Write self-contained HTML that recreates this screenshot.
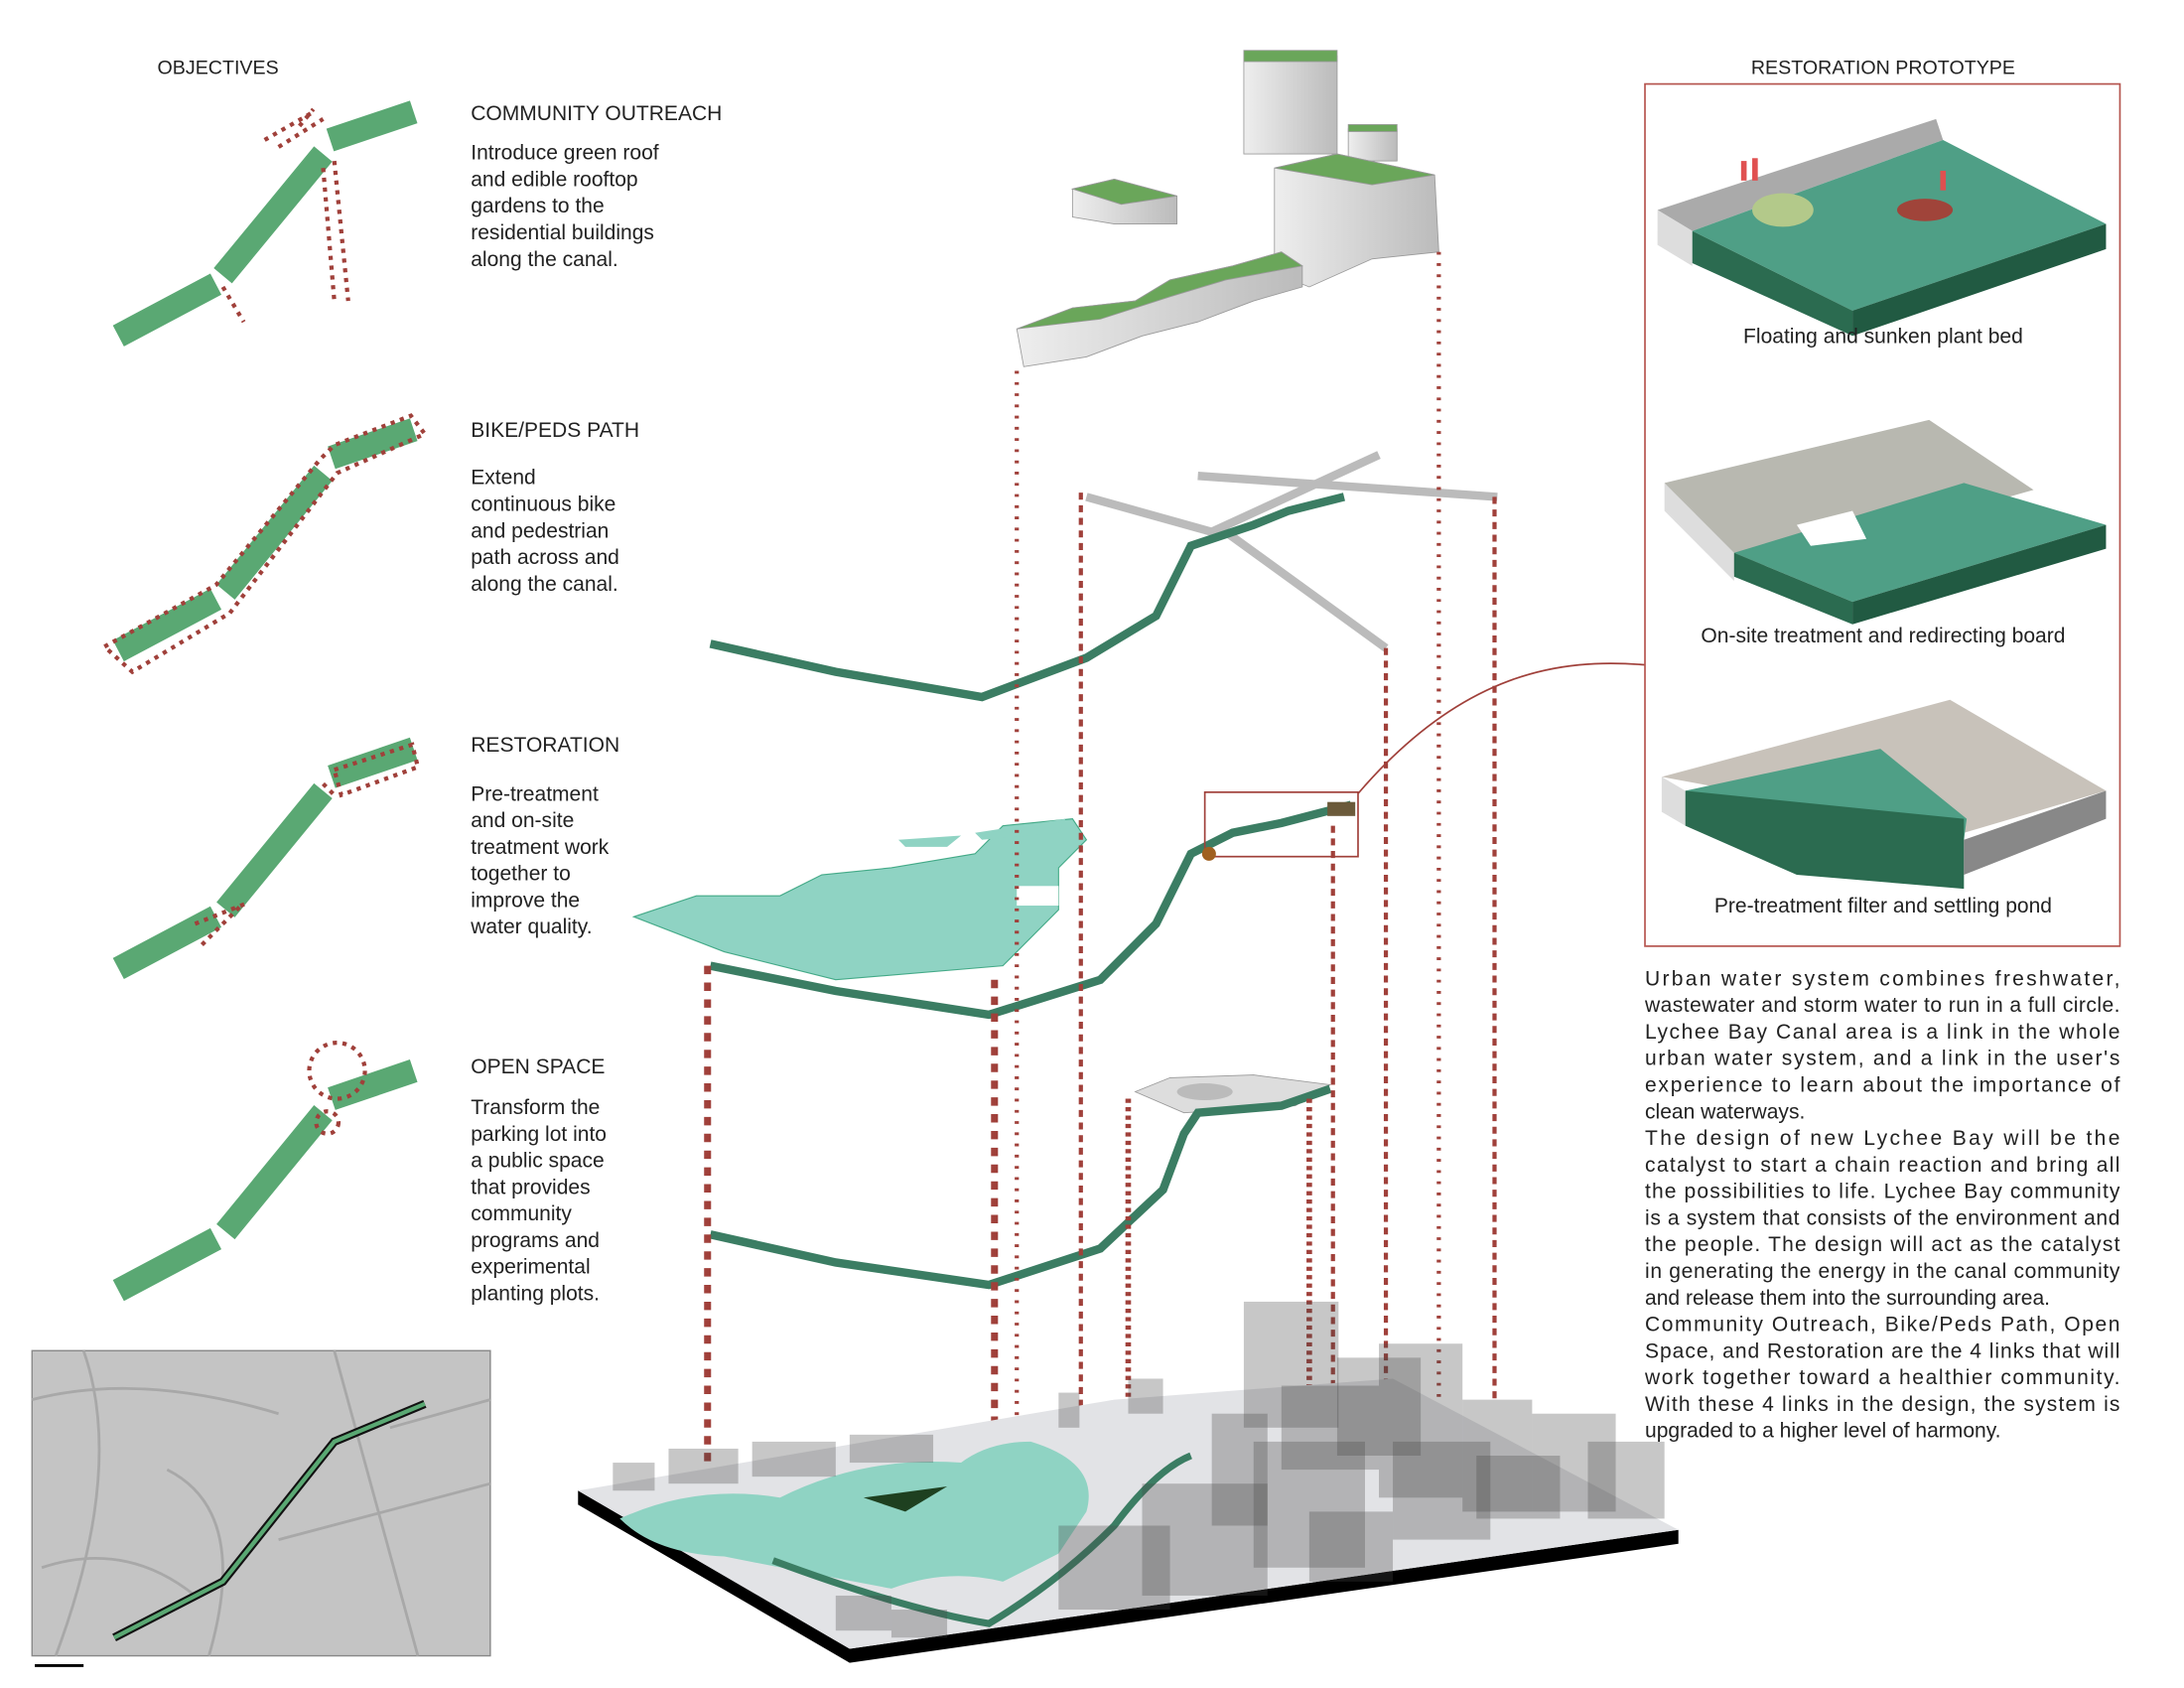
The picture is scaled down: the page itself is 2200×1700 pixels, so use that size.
<!DOCTYPE html>
<html><head><meta charset="utf-8"><style>
html,body{margin:0;padding:0;background:#fff}
svg{display:block}
text{font-family:"Liberation Sans",sans-serif;fill:#222}
</style></head><body>
<svg width="2200" height="1700" viewBox="0 0 1568 1206" preserveAspectRatio="none" xmlns="http://www.w3.org/2000/svg">
<defs>
<linearGradient id="bg" x1="0" x2="1"><stop offset="0" stop-color="#eee"/><stop offset="1" stop-color="#bbb"/></linearGradient>
</defs>
<text x="113" y="53" font-size="14">OBJECTIVES</text>
<g stroke="#5aa873" stroke-width="17" fill="none">
<path d="M85 240L155 203M160 197L232 110M237 100L297 80"/>
<path d="M85 465L155 428M162 423L232 338M238 327L297 307"/>
<path d="M85 692L155 655M162 650L232 565M238 555L297 535"/>
<path d="M85 922L155 885M162 880L232 795M238 785L297 765"/>
</g>
<g stroke="#a0403a" stroke-width="3" fill="none" stroke-dasharray="3 4">
<path d="M190 100L225 80M200 105L232 85M215 90L225 78M232 120L240 215M240 115L250 215M160 205L175 230"/>
<path d="M75 462L155 418L230 328L240 318L295 297L305 310L242 338L165 438L95 480Z"/>
<path d="M140 660L178 645M145 675L172 648M232 560L240 568M240 550L296 532L300 548L245 568Z"/>
<circle cx="242" cy="765" r="20"/><circle cx="235" cy="802" r="8"/>
</g>
<g font-size="15">
<text x="338" y="86">COMMUNITY OUTREACH</text>
<text x="338" y="114">Introduce green roof</text><text x="338" y="133">and edible rooftop</text><text x="338" y="152">gardens to the</text><text x="338" y="171">residential buildings</text><text x="338" y="190">along the canal.</text>
<text x="338" y="312">BIKE/PEDS PATH</text>
<text x="338" y="346">Extend</text><text x="338" y="365">continuous bike</text><text x="338" y="384">and pedestrian</text><text x="338" y="403">path across and</text><text x="338" y="422">along the canal.</text>
<text x="338" y="537">RESTORATION</text>
<text x="338" y="572">Pre-treatment</text><text x="338" y="591">and on-site</text><text x="338" y="610">treatment work</text><text x="338" y="629">together to</text><text x="338" y="648">improve the</text><text x="338" y="667">water quality.</text>
<text x="338" y="767">OPEN SPACE</text>
<text x="338" y="796">Transform the</text><text x="338" y="815">parking lot into</text><text x="338" y="834">a public space</text><text x="338" y="853">that provides</text><text x="338" y="872">community</text><text x="338" y="891">programs and</text><text x="338" y="910">experimental</text><text x="338" y="929">planting plots.</text>
</g>
<rect x="23" y="965" width="329" height="218" fill="#c4c4c4" stroke="#888"/>
<g stroke="#a8a8a8" stroke-width="2" fill="none">
<path d="M23 1000Q100 980 200 1010M60 965Q90 1050 40 1183M120 1050Q180 1080 150 1183M240 965L300 1183M200 1100L352 1060M280 1020L352 1000M30 1120Q90 1100 140 1140"/>
</g>
<path d="M82 1170L160 1130L240 1030L305 1003" stroke="#111" stroke-width="6" fill="none"/>
<path d="M82 1170L160 1130L240 1030L305 1003" stroke="#5aa873" stroke-width="3" fill="none"/>
<path d="M25 1190h35" stroke="#000" stroke-width="2"/>
<g stroke="#999" stroke-width="0.6">
<rect x="893" y="40" width="67" height="70" fill="url(#bg)"/><rect x="893" y="36" width="67" height="8" fill="#6aa65a"/>
<rect x="968" y="92" width="35" height="23" fill="url(#bg)"/><rect x="968" y="89" width="35" height="5" fill="#6aa65a"/>
<path d="M915 120L960 110L1030 125L1033 180L985 185L940 205L915 195Z" fill="url(#bg)"/><path d="M915 120L960 110L1030 125L985 132Z" fill="#6aa65a"/>
<path d="M770 135L800 128L845 140L845 160L800 160L770 155Z" fill="url(#bg)"/><path d="M770 135L800 128L845 140L805 146Z" fill="#6aa65a"/>
<path d="M730 235L770 220L815 215L840 200L885 190L920 180L935 190L935 205L900 215L860 230L820 240L780 255L735 262Z" fill="url(#bg)"/>
<path d="M730 235L770 220L815 215L840 200L885 190L920 180L935 190L880 200L840 212L790 228Z" fill="#6aa65a"/>
</g>
<g fill="none">
<path d="M780 355L870 380L990 325M860 340L1075 355M880 380L995 463" stroke="#bbb" stroke-width="6"/>
<path d="M510 460L600 480L705 498L780 470L830 440L855 390L900 375L925 365L965 355" stroke="#3b7d63" stroke-width="6"/>
</g>
<path d="M455 655L500 640L560 640L590 625L640 620L700 610L720 590L770 585L780 600L760 620L760 650L720 690L600 700L520 680Z" fill="#8fd3c3" stroke="#4a8" stroke-width="0.8"/>
<path d="M645 600L690 597L680 605L650 605Z M700 595L765 585L760 595L705 600Z" fill="#8fd3c3"/>
<rect x="730" y="633" width="30" height="14" fill="#fff"/>
<path d="M510 690L600 708L710 725L790 700L830 660L855 610L885 595L920 588L970 575" stroke="#3b7d63" stroke-width="6" fill="none"/>
<rect x="865" y="566" width="110" height="46" fill="none" stroke="#a0403a" stroke-width="1.2"/>
<rect x="953" y="573" width="20" height="10" fill="#6b5a3a"/>
<circle cx="868" cy="610" r="5" fill="#a06020"/>
<path d="M975 567C1050 480 1120 470 1181 475" stroke="#a0403a" stroke-width="1.2" fill="none"/>
<path d="M815 780L840 770L900 768L955 775L930 790L850 795Z" fill="#ddd" stroke="#999" stroke-width="0.6"/>
<ellipse cx="865" cy="780" rx="20" ry="6" fill="#bbb"/>
<path d="M510 882L600 902L710 918L790 892L835 850L850 810L860 795L920 790L955 778" stroke="#3b7d63" stroke-width="6" fill="none"/>
<g stroke="#a0403a" fill="none">
<path d="M730 265V1150M1033 180V1010" stroke-width="3" stroke-dasharray="2 6"/>
<path d="M776 352V1100M1073 355V1000M995 463V1125M957 590V1130" stroke-width="3" stroke-dasharray="5 4"/>
<path d="M508 690V1100M714 700V1160" stroke-width="5" stroke-dasharray="6 6"/>
<path d="M810 785V1020M940 785V1000M810 1020L845 1040L938 1015L940 1000L910 995L810 1010" stroke-width="4" stroke-dasharray="3 3"/>
</g>
<path d="M415 1065L610 1178L1205 1093L1205 1103L610 1188L415 1075Z" fill="#000"/>
<path d="M415 1065L800 1000L1000 985L1205 1093L610 1178Z" fill="#e2e3e6"/>
<path d="M445 1085Q500 1060 560 1070Q620 1040 690 1045Q710 1030 740 1030Q790 1045 780 1080L760 1110L720 1130Q680 1120 640 1135Q560 1120 520 1112Q470 1110 445 1085Z" fill="#8fd3c3"/>
<path d="M555 1115Q650 1150 710 1160Q760 1130 800 1090Q830 1050 855 1040" stroke="#3b7d63" stroke-width="5" fill="none"/>
<path d="M620 1070L680 1062L650 1080Z" fill="#1e4020"/>
<g fill="rgba(70,70,70,0.3)">
<rect x="893" y="930" width="68" height="90"/><rect x="960" y="970" width="60" height="70"/>
<rect x="990" y="960" width="60" height="110"/><rect x="1050" y="1000" width="50" height="80"/>
<rect x="1100" y="1010" width="60" height="70"/><rect x="1140" y="1030" width="55" height="55"/>
<rect x="900" y="1030" width="80" height="90"/><rect x="820" y="1060" width="90" height="80"/>
<rect x="760" y="1090" width="80" height="60"/><rect x="870" y="1010" width="40" height="80"/>
<rect x="1000" y="1030" width="70" height="70"/><rect x="940" y="1080" width="60" height="50"/>
<rect x="920" y="990" width="70" height="60"/><rect x="1060" y="1040" width="60" height="45"/>
<rect x="440" y="1045" width="30" height="20"/><rect x="480" y="1035" width="50" height="25"/>
<rect x="540" y="1030" width="60" height="25"/><rect x="610" y="1025" width="60" height="20"/>
<rect x="760" y="995" width="15" height="25"/><rect x="810" y="985" width="25" height="25"/>
<rect x="600" y="1140" width="40" height="25"/><rect x="640" y="1150" width="40" height="20"/>
</g>
<text x="1352" y="53" font-size="14" text-anchor="middle">RESTORATION PROTOTYPE</text>
<rect x="1181" y="60" width="341" height="616" fill="none" stroke="#b5554f" stroke-width="1.2"/>
<path d="M1190 150L1390 85L1395 100L1215 165Z" fill="#aaa"/>
<path d="M1215 165L1395 100L1512 160L1330 222Z" fill="#4f9f86"/>
<path d="M1190 150L1215 165L1215 190L1190 175Z" fill="#ddd"/>
<path d="M1215 165L1330 222L1330 240L1215 188Z" fill="#2b6b50"/>
<path d="M1330 222L1512 160L1512 178L1330 240Z" fill="#215a42"/>
<ellipse cx="1280" cy="150" rx="22" ry="12" fill="#b3c98a"/><ellipse cx="1382" cy="150" rx="20" ry="8" fill="#a0443a"/>
<g fill="#e05050"><rect x="1250" y="115" width="4" height="14"/><rect x="1258" y="113" width="4" height="16"/><rect x="1393" y="122" width="4" height="14"/></g>
<text x="1352" y="245" font-size="15" text-anchor="middle">Floating and sunken plant bed</text>
<path d="M1195 345L1385 300L1460 350L1245 410Z" fill="#b8b8b0"/>
<path d="M1245 395L1410 345L1512 375L1330 430Z" fill="#4f9f86"/>
<path d="M1195 345L1245 395L1245 415L1195 365Z" fill="#ddd"/>
<path d="M1245 395L1330 430L1330 446L1245 412Z" fill="#2b6b50"/>
<path d="M1330 430L1512 375L1512 392L1330 446Z" fill="#215a42"/>
<path d="M1290 375L1330 365L1340 385L1300 390Z" fill="#fff"/>
<text x="1352" y="459" font-size="15" text-anchor="middle">On-site treatment and redirecting board</text>
<path d="M1193 555L1400 500L1512 565L1410 595Z" fill="#c8c2ba"/>
<path d="M1210 565L1350 535L1412 585L1410 600L1290 610Z" fill="#4f9f86"/>
<path d="M1193 555L1210 565L1210 590L1193 580Z" fill="#ddd"/>
<path d="M1210 565L1410 585L1410 635L1290 625L1210 590Z" fill="#2b6b50"/>
<path d="M1410 600L1512 565L1512 585L1410 625Z" fill="#888"/>
<text x="1352" y="652" font-size="15" text-anchor="middle">Pre-treatment filter and settling pond</text>
<g font-size="15">
<text x="1181" y="704" textLength="341" lengthAdjust="spacing">Urban water system combines freshwater,</text>
<text x="1181" y="723" textLength="341" lengthAdjust="spacing">wastewater and storm water to run in a full circle.</text>
<text x="1181" y="742" textLength="341" lengthAdjust="spacing">Lychee Bay Canal area is a link in the whole</text>
<text x="1181" y="761" textLength="341" lengthAdjust="spacing">urban water system, and a link in the user's</text>
<text x="1181" y="780" textLength="341" lengthAdjust="spacing">experience to learn about the importance of</text>
<text x="1181" y="799">clean waterways.</text>
<text x="1181" y="818" textLength="341" lengthAdjust="spacing">The design of new Lychee Bay will be the</text>
<text x="1181" y="837" textLength="341" lengthAdjust="spacing">catalyst to start a chain reaction and bring all</text>
<text x="1181" y="856" textLength="341" lengthAdjust="spacing">the possibilities to life. Lychee Bay community</text>
<text x="1181" y="875" textLength="341" lengthAdjust="spacing">is a system that consists of the environment and</text>
<text x="1181" y="894" textLength="341" lengthAdjust="spacing">the people. The design will act as the catalyst</text>
<text x="1181" y="913" textLength="341" lengthAdjust="spacing">in generating the energy in the canal community</text>
<text x="1181" y="932">and release them into the surrounding area.</text>
<text x="1181" y="951" textLength="341" lengthAdjust="spacing">Community Outreach, Bike/Peds Path, Open</text>
<text x="1181" y="970" textLength="341" lengthAdjust="spacing">Space, and Restoration are the 4 links that will</text>
<text x="1181" y="989" textLength="341" lengthAdjust="spacing">work together toward a healthier community.</text>
<text x="1181" y="1008" textLength="341" lengthAdjust="spacing">With these 4 links in the design, the system is</text>
<text x="1181" y="1027">upgraded to a higher level of harmony.</text>
</g>
</svg>
</body></html>
